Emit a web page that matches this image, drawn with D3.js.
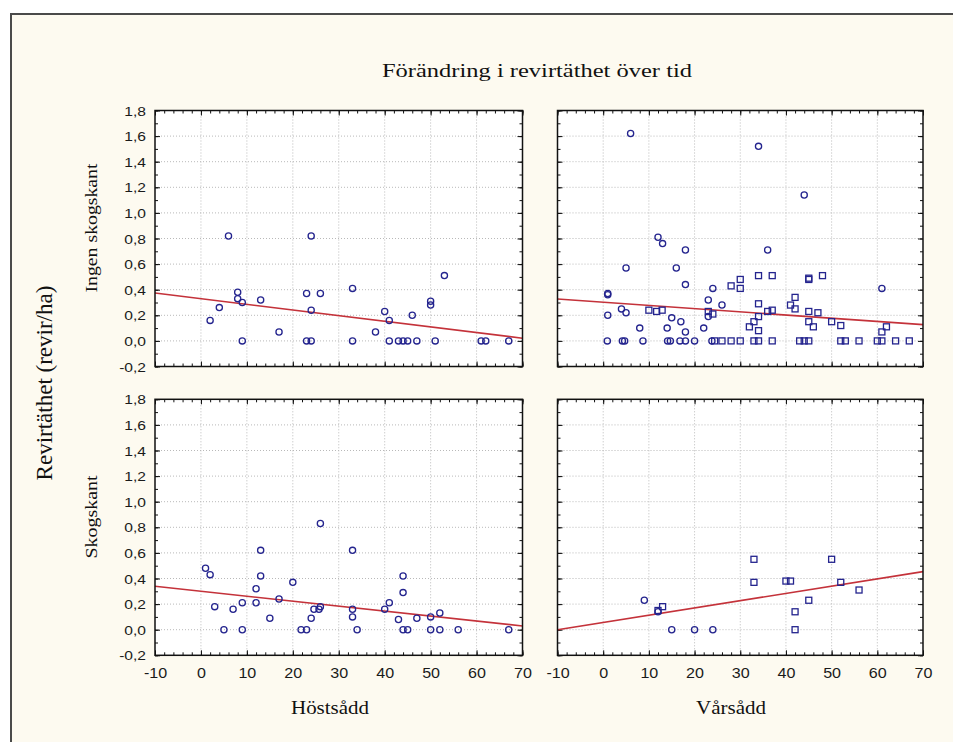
<!DOCTYPE html>
<html><head><meta charset="utf-8">
<script src="https://cdn.jsdelivr.net/npm/d3@7"></script>
<style>body{margin:0;background:#fff;} svg{display:block;}</style>
</head><body><svg id="c" width="953" height="742"></svg>
<script>
// ---------- data ----------
const title = "Förändring i revirtäthet över tid";
const yLabel = "Revirtäthet (revir/ha)";
const rowLabels = ["Ingen skogskant", "Skogskant"];
const colLabels = ["Höstsådd", "Vårsådd"];
const xTicks = [-10, 0, 10, 20, 30, 40, 50, 60, 70];
const yTicks = [-0.2, 0, 0.2, 0.4, 0.6, 0.8, 1.0, 1.2, 1.4, 1.6, 1.8];

// Höstsådd, Ingen skogskant (circles)
const hostIngenX = [2, 4, 6, 8, 8, 9, 9, 13, 17, 23, 26, 24, 24, 23, 24, 33, 33, 38, 40, 41, 41, 43, 44, 45, 47, 46, 50, 50, 51, 53, 61, 62, 67];
const hostIngenY = [0.16, 0.26, 0.82, 0.38, 0.33, 0.30, 0, 0.32, 0.07, 0.37, 0.37, 0.82, 0.24, 0, 0, 0.41, 0, 0.07, 0.23, 0.16, 0, 0, 0, 0, 0, 0.20, 0.31, 0.28, 0, 0.51, 0, 0, 0];

// Vårsådd, Ingen skogskant
const varIngenCircX = [6, 34, 44, 12, 13, 18, 36, 5, 16, 18, 1, 1, 61, 24, 23, 26, 4, 5, 1, 15, 17, 8, 14, 18, 22, 23, 0.9, 4.2, 4.7, 8.7, 14.1, 14.7, 16.8, 18, 20, 23.8];
const varIngenCircY = [1.62, 1.52, 1.14, 0.81, 0.76, 0.71, 0.71, 0.57, 0.57, 0.44, 0.37, 0.36, 0.41, 0.41, 0.32, 0.28, 0.25, 0.22, 0.20, 0.18, 0.15, 0.10, 0.10, 0.07, 0.10, 0.19, 0, 0, 0, 0, 0, 0, 0, 0, 0, 0];
const varIngenSqX = [30, 28, 30, 34, 37, 45, 45, 48, 42, 41, 42, 34, 36, 37, 34, 33, 32, 34, 45, 47, 45, 46, 50, 52, 62, 61, 10, 11.7, 12.9, 23, 24, 24.4, 26, 28, 30, 33, 34, 37, 43, 44, 45, 52, 53, 56, 60, 61, 64, 67];
const varIngenSqY = [0.48, 0.43, 0.41, 0.51, 0.51, 0.49, 0.48, 0.51, 0.34, 0.28, 0.25, 0.29, 0.23, 0.24, 0.19, 0.15, 0.11, 0.08, 0.23, 0.22, 0.15, 0.11, 0.15, 0.12, 0.11, 0.07, 0.24, 0.23, 0.24, 0.23, 0.21, 0, 0, 0, 0, 0, 0, 0, 0, 0, 0, 0, 0, 0, 0, 0, 0, 0];

// Höstsådd, Skogskant (circles)
const hostSkogX = [1, 2, 3, 5, 7, 9, 9, 12, 12, 13, 13, 15, 17, 20, 21.8, 23, 24, 24.6, 25.7, 26, 26, 33, 33, 33, 34, 40, 41, 43, 44, 44, 44, 45, 47, 50, 50, 52, 52, 56, 67];
const hostSkogY = [0.48, 0.43, 0.18, 0, 0.16, 0.21, 0, 0.32, 0.21, 0.62, 0.42, 0.09, 0.24, 0.37, 0, 0, 0.09, 0.16, 0.16, 0.18, 0.83, 0.62, 0.16, 0.10, 0, 0.16, 0.21, 0.08, 0.42, 0.29, 0, 0, 0.09, 0.10, 0, 0.13, 0, 0, 0];

// Vårsådd, Skogskant
const varSkogCircX = [9, 12, 15, 20, 24];
const varSkogCircY = [0.23, 0.14, 0, 0, 0];
const varSkogSqX = [12, 13, 33, 33, 40, 41, 42, 42, 45, 50, 52, 56];
const varSkogSqY = [0.15, 0.18, 0.55, 0.37, 0.38, 0.38, 0.14, 0, 0.23, 0.55, 0.37, 0.31];

// regression lines: value at x = -10 and x = 70
const fitX = [-10, 70];
const fitHostIngen = [0.374, 0.021];
const fitVarIngen = [0.327, 0.127];
const fitHostSkog = [0.339, 0.029];
const fitVarSkog = [0.0, 0.454];

// ---------- layout ----------
const W = 953, H = 742;
const colX = [[155, 522.5], [557.5, 923]];
const rowY = [[110.5, 366.5], [399.3, 655.3]];
const markColor = "#24248e";
const fitColor = "#c4323a";

const panels = [
  {r: 0, c: 0, circX: hostIngenX, circY: hostIngenY, sqX: [], sqY: [], fit: fitHostIngen},
  {r: 0, c: 1, circX: varIngenCircX, circY: varIngenCircY, sqX: varIngenSqX, sqY: varIngenSqY, fit: fitVarIngen},
  {r: 1, c: 0, circX: hostSkogX, circY: hostSkogY, sqX: [], sqY: [], fit: fitHostSkog},
  {r: 1, c: 1, circX: varSkogCircX, circY: varSkogCircY, sqX: varSkogSqX, sqY: varSkogSqY, fit: fitVarSkog}
];

const svg = d3.select("#c");
svg.append("rect").attr("width", W).attr("height", H).attr("fill", "#ffffff");
svg.append("rect").attr("x", 11).attr("y", 14).attr("width", W - 11).attr("height", H - 14).attr("fill", "#fdfaf0");
svg.append("path").attr("d", `M11,${H} L11,14 L${W},14`).attr("fill", "none").attr("stroke", "#4a4a4a").attr("stroke-width", 2);

const fmt = v => d3.format(".1f")(v).replace(".", ",").replace("−", "-");
const serif = "'Liberation Serif','Times New Roman',serif";
const sans = "'Liberation Sans',Arial,sans-serif";

// title
svg.append("text").attr("x", 537).attr("y", 77).attr("text-anchor", "middle")
  .attr("font-family", serif).attr("font-size", 19).attr("fill", "#111")
  .attr("textLength", 310).attr("lengthAdjust", "spacingAndGlyphs").text(title);

const minorX = d3.range(-10, 70.001, 2);
const minorY = d3.range(-0.2, 1.8001, 0.1);

panels.forEach(p => {
  const [x0, x1] = colX[p.c], [y0, y1] = rowY[p.r];
  const x = d3.scaleLinear().domain([-10, 70]).range([x0, x1]);
  const y = d3.scaleLinear().domain([-0.2, 1.8]).range([y1, y0]);
  const g = svg.append("g");
  g.append("rect").attr("x", x0).attr("y", y0).attr("width", x1 - x0).attr("height", y1 - y0).attr("fill", "#fff");
  // grid
  g.selectAll(".gx").data(xTicks.slice(1, -1)).join("line")
    .attr("x1", d => x(d)).attr("x2", d => x(d)).attr("y1", y0).attr("y2", y1)
    .attr("stroke", "#b9b9b9").attr("stroke-width", 1).attr("stroke-dasharray", "1,2");
  g.selectAll(".gy").data(yTicks.slice(1, -1)).join("line")
    .attr("y1", d => y(d)).attr("y2", d => y(d)).attr("x1", x0).attr("x2", x1)
    .attr("stroke", "#b9b9b9").attr("stroke-width", 1).attr("stroke-dasharray", "1,2");

  // inward ticks via d3 axes
  const tickStyle = sel => { sel.select(".domain").remove(); sel.selectAll("line").attr("stroke", "#111"); };
  g.append("g").attr("transform", `translate(0,${y1})`).call(d3.axisBottom(x).tickValues(minorX).tickSize(-3).tickFormat("")).call(tickStyle);
  g.append("g").attr("transform", `translate(0,${y0})`).call(d3.axisTop(x).tickValues(minorX).tickSize(-3).tickFormat("")).call(tickStyle);
  g.append("g").attr("transform", `translate(${x0},0)`).call(d3.axisLeft(y).tickValues(minorY).tickSize(-3).tickFormat("")).call(tickStyle);
  g.append("g").attr("transform", `translate(${x1},0)`).call(d3.axisRight(y).tickValues(minorY).tickSize(-3).tickFormat("")).call(tickStyle);
  g.append("g").attr("transform", `translate(0,${y1})`).call(d3.axisBottom(x).tickValues(xTicks).tickSize(-5).tickFormat("")).call(tickStyle);
  g.append("g").attr("transform", `translate(0,${y0})`).call(d3.axisTop(x).tickValues(xTicks).tickSize(-5).tickFormat("")).call(tickStyle);
  g.append("g").attr("transform", `translate(${x0},0)`).call(d3.axisLeft(y).tickValues(yTicks).tickSize(-5).tickFormat("")).call(tickStyle);
  g.append("g").attr("transform", `translate(${x1},0)`).call(d3.axisRight(y).tickValues(yTicks).tickSize(-5).tickFormat("")).call(tickStyle);

  // tick labels
  if (p.c === 0) {
    const ay = g.append("g").attr("transform", `translate(${x0},0)`)
      .call(d3.axisLeft(y).tickValues(yTicks).tickSize(0).tickPadding(0).tickFormat(fmt));
    ay.select(".domain").remove();
    ay.selectAll("text").attr("font-family", sans).attr("font-size", 13).attr("fill", "#1a1a1a")
      .attr("x", 0).attr("dy", "0.36em").attr("transform", "translate(-9,0) scale(1.2,1)");
  }
  if (p.r === 1) {
    const ax = g.append("g").attr("transform", `translate(0,${y1})`)
      .call(d3.axisBottom(x).tickValues(xTicks).tickSize(0).tickPadding(0).tickFormat(d => String(d)));
    ax.select(".domain").remove();
    ax.selectAll("text").attr("font-family", sans).attr("font-size", 14).attr("fill", "#1a1a1a")
      .attr("y", 0).attr("dy", 0).attr("transform", "translate(0,23) scale(1.15,1)");
  }

  // regression line
  g.append("line").attr("x1", x(fitX[0])).attr("x2", x(fitX[1]))
    .attr("y1", y(p.fit[0])).attr("y2", y(p.fit[1]))
    .attr("stroke", fitColor).attr("stroke-width", 1.6);

  // markers
  const circ = p.circX.map((v, i) => [v, p.circY[i]]);
  const sq = p.sqX.map((v, i) => [v, p.sqY[i]]);
  g.selectAll(".c").data(circ).join("circle")
    .attr("cx", d => x(d[0])).attr("cy", d => y(d[1])).attr("r", 3.1)
    .attr("fill", "none").attr("stroke", markColor).attr("stroke-width", 1.3);
  g.selectAll(".s").data(sq).join("rect")
    .attr("x", d => x(d[0]) - 3).attr("y", d => y(d[1]) - 3).attr("width", 6).attr("height", 6)
    .attr("fill", "none").attr("stroke", markColor).attr("stroke-width", 1.3);

  // frame
  g.append("rect").attr("x", x0).attr("y", y0).attr("width", x1 - x0).attr("height", y1 - y0)
    .attr("fill", "none").attr("stroke", "#111").attr("stroke-width", 1.5);
});

// row labels
const rowLabelPos = [[97, 228], [97, 517]];
const rowLen = [129, 83];
rowLabels.forEach((t, i) => {
  svg.append("text").attr("transform", `translate(${rowLabelPos[i][0]},${rowLabelPos[i][1]}) rotate(-90)`)
    .attr("text-anchor", "middle").attr("font-family", serif).attr("font-size", 17).attr("fill", "#111")
    .attr("textLength", rowLen[i]).attr("lengthAdjust", "spacingAndGlyphs").text(t);
});
// column labels
const colLabelX = [330, 731];
const colLen = [78, 70];
colLabels.forEach((t, i) => {
  svg.append("text").attr("x", colLabelX[i]).attr("y", 714).attr("text-anchor", "middle")
    .attr("font-family", serif).attr("font-size", 19).attr("fill", "#111")
    .attr("textLength", colLen[i]).attr("lengthAdjust", "spacingAndGlyphs").text(t);
});
// y label
svg.append("text").attr("transform", "translate(52,383) rotate(-90)").attr("text-anchor", "middle")
  .attr("font-family", serif).attr("font-size", 23).attr("fill", "#111").text(yLabel);
</script></body></html>
